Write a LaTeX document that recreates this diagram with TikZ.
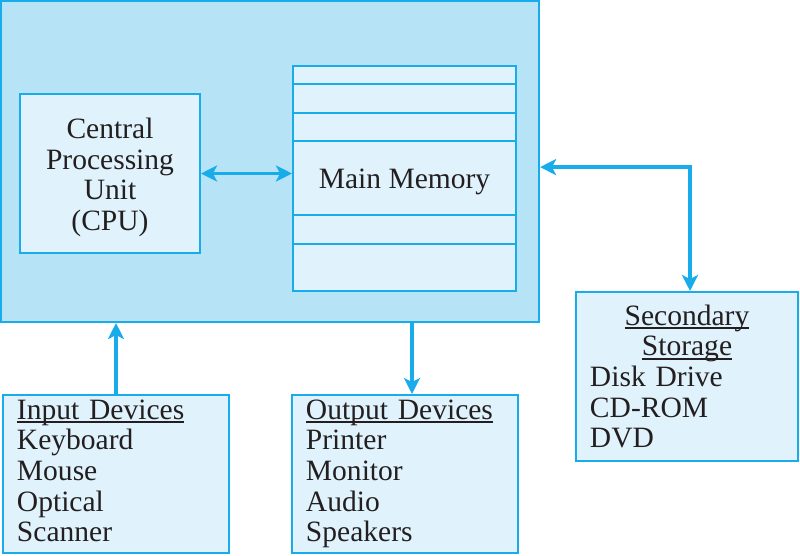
\documentclass[tikz,border=0pt]{standalone}
\usepackage{fontspec}
\setmainfont{Liberation Serif}
\usepackage{tikz}
\usetikzlibrary{arrows.meta,positioning}
\definecolor{edge}{HTML}{18ACEB}
\definecolor{outerfill}{HTML}{B7E3F7}
\definecolor{innerfill}{HTML}{E0F3FC}
\definecolor{ink}{HTML}{231F20}

\newlength\undlwd
\newcommand\undl[1]{\settowidth\undlwd{#1}%
  \rlap{\rule[-0.14em]{\undlwd}{0.07em}}#1}

\tikzset{
  unitbox/.style={draw=edge, line width=1.4pt, fill=innerfill, text=ink,
    inner sep=0pt, font=\fontsize{21}{21.8}\selectfont},
  devbox/.style={unitbox, align=left, inner xsep=0.35cm,
    minimum width=5.65cm, minimum height=3.95cm},
  tip/.tip={Stealth[length=0.4cm, width=0.4cm, inset=0.1cm]},
  link/.style={draw=edge, line width=2.8pt, -tip},
  twoway/.style={draw=edge, line width=2.8pt, tip-tip},
}

\begin{document}
\begin{tikzpicture}[x=0.025cm, y=-0.025cm]
  \useasboundingbox (0,0) rectangle (800,555);
  % the computer itself
  \node[unitbox, fill=outerfill, minimum width=13.45cm,
        minimum height=8.025cm] (computer) at (270,161.5) {};
  \node[unitbox, align=center, minimum width=4.5cm,
        minimum height=3.975cm] (cpu) at (110,173.5)
        {\rule{0pt}{20pt}Central\\Processing\\Unit\\(CPU)};
  \node[unitbox, minimum width=5.575cm, minimum height=5.625cm,
        text height=19pt] (memory) at (404.5,178.5) {Main Memory};
  \foreach \y in {84,113,141,215,244}
    \draw[edge, line width=1.4pt] (memory.west |- 0,\y) -- (memory.east |- 0,\y);

  % devices round it
  \node[devbox, minimum width=5.55cm, minimum height=4.225cm,
        text width=4.85cm] (storage) at (687,376.5)
        {\makebox[4.85cm]{\undl{Secondary}}\\
         \makebox[4.85cm]{\undl{Storage}}\\
         Disk Drive\\CD-ROM\\DVD};
  \node[devbox, text width=4.95cm] (input) at (116,474)
        {\undl{Input Devices}\\Keyboard\\Mouse\\Optical\\Scanner\rule[-4.6pt]{0pt}{0pt}};
  \node[devbox, text width=4.95cm] (output) at (405,474)
        {\undl{Output Devices}\\Printer\\Monitor\\Audio\\Speakers\rule[-4.6pt]{0pt}{0pt}};

  % connectors
  \draw[twoway] (cpu.east) -- (cpu.east -| memory.west);
  \draw[twoway] ([yshift=-0.14cm]computer.east)
    -| ([xshift=0.075cm]storage.north);
  \draw[link] (input.north) -- (input.north |- computer.south);
  \draw[link] ([xshift=0.175cm]output.north |- computer.south)
    -- ([xshift=0.175cm]output.north);
\end{tikzpicture}
\end{document}
